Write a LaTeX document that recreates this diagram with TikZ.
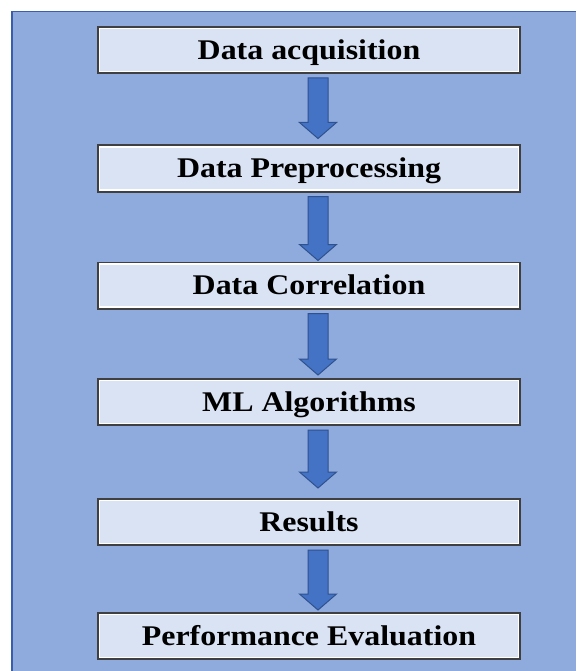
\documentclass[tikz,border=0pt]{standalone}
\usepackage{fontspec}
\newfontfamily\boxfont{Liberation Serif}[FakeStretch=1.12]
\usetikzlibrary{calc}
\definecolor{panelblue}{HTML}{8FAADC}
\definecolor{panelline}{HTML}{3A5FA8}
\definecolor{boxfill}{HTML}{DAE3F3}
\definecolor{boxedge}{HTML}{404040}
\definecolor{arrowfill}{HTML}{4472C4}
\definecolor{arrowedge}{HTML}{2F528F}

\tikzset{
  stage/.style={draw=boxedge, line width=2pt, fill=boxfill,
    minimum width=422pt, minimum height=46pt, inner sep=0pt,
    text height=18.9pt, text depth=0pt,
    font=\boxfont\bfseries\fontsize{28.5}{30}\selectfont, text=black},
  innerline/.style={draw=white, line width=1.3pt},
  arrowbody/.style={fill=arrowfill, draw=arrowedge, line width=1pt, line join=miter}
}

% block arrow from the bottom of #1 down to a tip #3 above the top of #2
\newcommand\blockarrow[3]{%
  \path ($(#1.south)+(9,4)$) coordinate (ast)
        ($(#2.north)+(9,-#3)$) coordinate (atp);
  \draw[arrowbody] let \p1=(ast), \p2=(atp) in
    (\x1-10pt,\y1) -- (\x1+10pt,\y1) -- (\x1+10pt,\y2+16pt) -- (\x1+18.5pt,\y2+16pt)
    -- (\x1,\y2) -- (\x1-18.5pt,\y2+16pt) -- (\x1-10pt,\y2+16pt) -- cycle;
}

\begin{document}
\begin{tikzpicture}[x=1pt, y=-1pt]
  \useasboundingbox (0,0) rectangle (576,671);

  % panel
  \fill[panelblue] (11,11) rectangle (576,671);
  \draw[panelline, line width=1.5pt] (11.75,671) -- (11.75,11.75) -- (576,11.75);

  % stages
  \node[stage] (s1) at (309,50)    {Data acquisition};
  \node[stage] (s2) at (309,168.5) {Data Preprocessing};
  \node[stage] (s3) at (309,285.5) {Data Correlation};
  \node[stage] (s4) at (309,402)   {ML Algorithms};
  \node[stage] (s5) at (309,522)   {Results};
  \node[stage] (s6) at (309,636)   {Performance Evaluation};

  \foreach \n in {s1,s2,s3,s4,s5,s6}
    \draw[innerline] ($(\n.south west)+(2.4,-2.4)$) rectangle ($(\n.north east)+(-2.4,2.4)$);

  % arrows between stages
  \blockarrow{s1}{s2}{6}
  \blockarrow{s2}{s3}{1}
  \blockarrow{s3}{s4}{3}
  \blockarrow{s4}{s5}{10}
  \blockarrow{s5}{s6}{2}
\end{tikzpicture}
\end{document}
